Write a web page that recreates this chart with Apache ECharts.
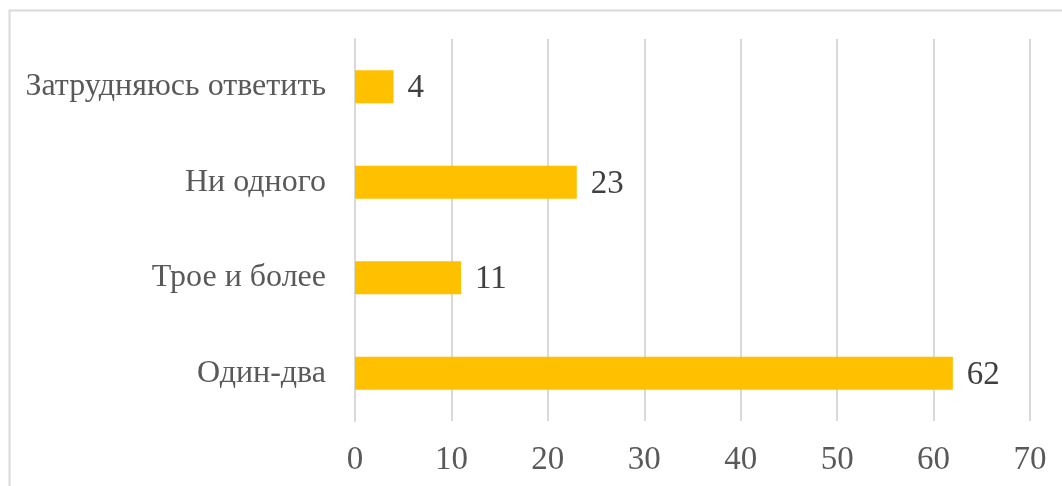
<!DOCTYPE html>
<html>
<head>
<meta charset="utf-8">
<script src="https://cdn.jsdelivr.net/npm/echarts@6/dist/echarts.min.js"></script>
<style>
  html, body { margin: 0; padding: 0; background: #fff; }
  #chart { width: 1062px; height: 486px; }
</style>
</head>
<body>
<div id="chart"></div>
<script>
let categories = ['Один-два', 'Трое и более', 'Ни одного', 'Затрудняюсь ответить'];
let values = [62, 11, 23, 4];
let ticks = [0, 10, 20, 30, 40, 50, 60, 70];

let fontFamily = '"Liberation Serif", "Times New Roman", serif';
let myChart = echarts.init(document.getElementById('chart'));

let option = {
  animation: false,
  backgroundColor: '#fff',
  graphic: [
    {
      type: 'rect',
      shape: { x: 9.5, y: 10.5, width: 1200, height: 600 },
      style: { fill: 'none', stroke: '#d9d9d9', lineWidth: 2 },
      silent: true
    }
  ],
  grid: {
    left: 355,
    right: 32,
    top: 39,
    bottom: 65
  },
  xAxis: {
    type: 'value',
    min: ticks[0],
    max: ticks[ticks.length - 1],
    interval: 10,
    axisLine: { show: false },
    axisTick: { show: false },
    axisLabel: {
      color: '#595959',
      fontFamily: fontFamily,
      fontSize: 33,
      margin: 23
    },
    splitLine: { lineStyle: { color: '#d9d9d9', width: 2 } }
  },
  yAxis: {
    type: 'category',
    data: categories,
    axisLine: { lineStyle: { color: '#d9d9d9', width: 2 } },
    axisTick: { show: false },
    axisLabel: {
      color: '#595959',
      fontFamily: fontFamily,
      fontSize: 32,
      margin: 29,
      padding: [4, 0, 0, 0]
    }
  },
  series: [
    {
      type: 'bar',
      data: values,
      barWidth: 33,
      itemStyle: { color: '#FFC000' },
      label: {
        show: true,
        position: 'right',
        distance: 14,
        offset: [0, 2],
        color: '#404040',
        fontFamily: fontFamily,
        fontSize: 33
      }
    }
  ]
};

option && myChart.setOption(option);
</script>
</body>
</html>
